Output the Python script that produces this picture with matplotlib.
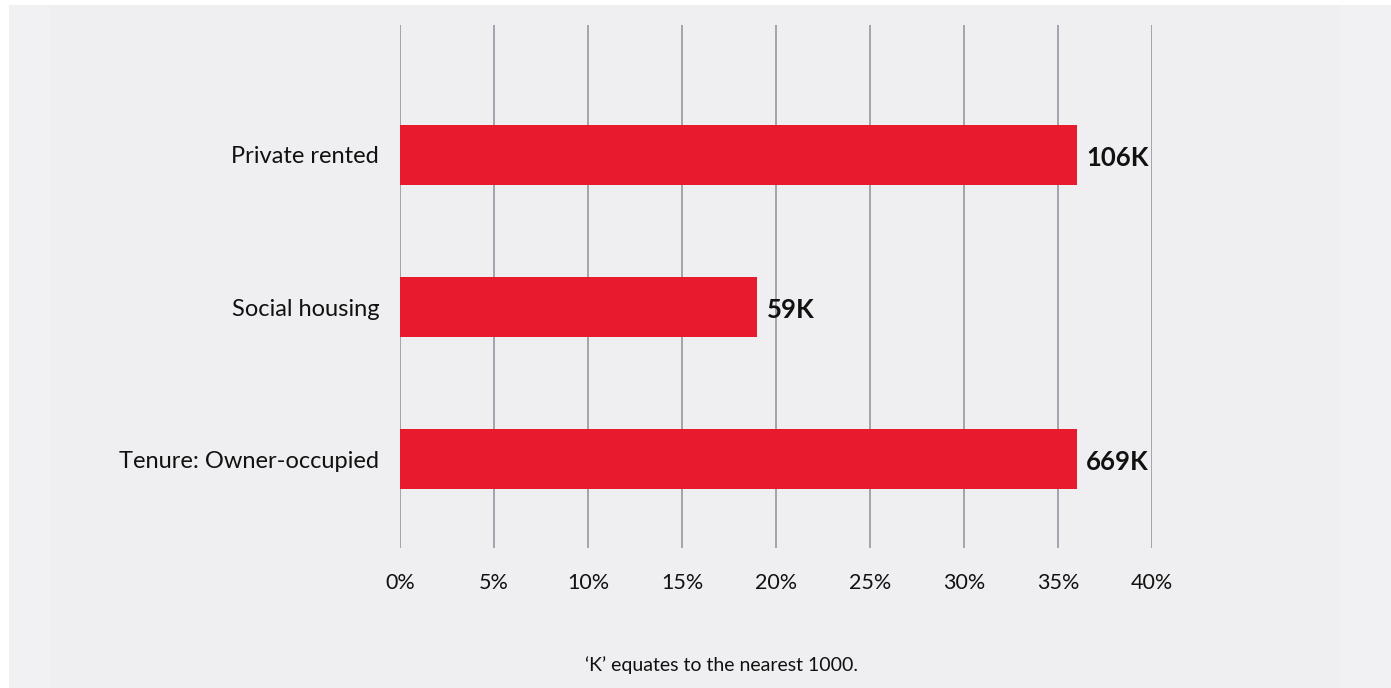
import matplotlib.pyplot as plt
from matplotlib.patches import Rectangle

categories = ["Tenure: Owner-occupied", "Social housing", "Private rented"]
shares = [36.0, 19.0, 36.0]
value_labels = ["669K", "59K", "106K"]
x_ticks = [0, 5, 10, 15, 20, 25, 30, 35, 40]
note = "\u2018K\u2019 equates to the nearest 1000."

W, H = 1391, 688
fig = plt.figure(figsize=(W / 100, H / 100), dpi=100, facecolor="white")

# background panels
fig.patches.append(Rectangle((9 / W, 0), 1 - 9 / W, 1 - 5 / H, transform=fig.transFigure,
                             facecolor="#f1f1f3", edgecolor="none", zorder=-2))
fig.patches.append(Rectangle((51 / W, 0), (1340 - 51) / W, 1 - 5 / H, transform=fig.transFigure,
                             facecolor="#efeff1", edgecolor="none", zorder=-1))

ax = fig.add_axes([400 / W, 1 - 548 / H, (1152 - 400) / W, (548 - 25) / H])
ax.set_facecolor("none")

ypos = range(len(categories))
ax.barh(ypos, shares, height=0.4, color="#e81a2e", zorder=2)
for y, v, lab in zip(ypos, shares, value_labels):
    ax.text(v + 0.5, y - 0.02, lab, va="center", ha="left", fontsize=18.5,
            fontweight="bold", family="Lato", color="#111111", zorder=3)

ax.set_xlim(0, 40)
ax.set_ylim(-0.585, 2.855)
ax.set_xticks(x_ticks)
ax.set_xticklabels([f"{t}%" for t in x_ticks], family="Lato", fontsize=15.5, color="#111111")
ax.set_yticks(list(ypos))
ax.set_yticklabels(categories, family="Lato", fontsize=17, color="#111111")
ax.tick_params(axis="both", length=0)
ax.tick_params(axis="x", pad=18)
ax.tick_params(axis="y", pad=15)
ax.grid(axis="x", color="#8f8f9b", linewidth=1.1, zorder=1)
ax.set_axisbelow(True)
for s in ax.spines.values():
    s.set_visible(False)

fig.text(722 / W, 1 - 665 / H, note, ha="center", va="center", family="Lato",
         fontsize=14, color="#111111")

fig.savefig("out.png", dpi=100, facecolor=fig.get_facecolor())
